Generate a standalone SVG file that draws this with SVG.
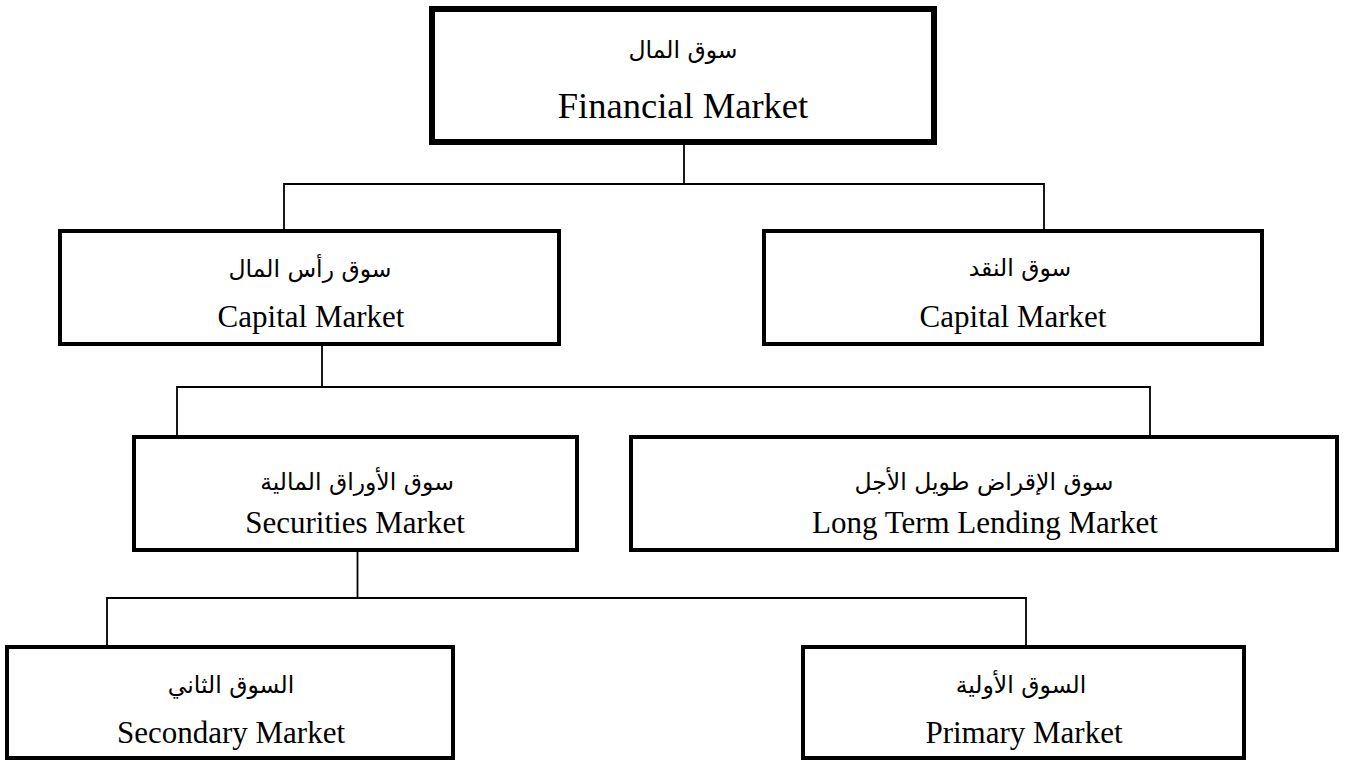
<svg xmlns="http://www.w3.org/2000/svg" width="1353" height="762" viewBox="0 0 1353 762">
<style>
.box{fill:#fff;stroke:#000;stroke-width:4}
.top{stroke-width:6}
.en{font-family:"Liberation Serif","Times New Roman",serif;font-size:31px;fill:#000;text-anchor:middle}
.ar{font-family:"DejaVu Sans","Noto Sans",sans-serif;font-size:23.5px;fill:#000;text-anchor:middle}
.conn{fill:none;stroke:#000;stroke-width:1.8}
</style>
<rect width="1353" height="762" fill="#fff"/>
<g id="connectors">
<path class="conn" d="M684 145V184M284 229V184H1044V229"/>
<path class="conn" d="M322 346V387M177 435V387H1150V435"/>
<path class="conn" d="M357.5 552V598M107 645V598H1026V645"/>
</g>
<g id="financial">
<rect class="box top" x="432" y="9" width="502" height="133"/>
<text class="ar" x="683" y="58" direction="rtl">سوق المال</text>
<text class="en" x="683" y="118" style="font-size:36.5px">Financial Market</text>
</g>
<g id="capital">
<rect class="box" x="60" y="231" width="499" height="113"/>
<text class="ar" x="310" y="277" direction="rtl">سوق رأس المال</text>
<text class="en" x="311" y="327">Capital Market</text>
</g>
<g id="money">
<rect class="box" x="764" y="231" width="498" height="113"/>
<text class="ar" x="1020" y="276" direction="rtl">سوق النقد</text>
<text class="en" x="1013" y="327">Capital Market</text>
</g>
<g id="securities">
<rect class="box" x="134" y="437" width="443" height="113"/>
<text class="ar" x="357" y="490" direction="rtl">سوق الأوراق المالية</text>
<text class="en" x="355" y="533">Securities Market</text>
</g>
<g id="lending">
<rect class="box" x="631" y="437" width="706" height="113"/>
<text class="ar" x="984" y="490" direction="rtl">سوق الإقراض طويل الأجل</text>
<text class="en" x="985" y="533">Long Term Lending Market</text>
</g>
<g id="secondary">
<rect class="box" x="7" y="647" width="446" height="111"/>
<text class="ar" x="231" y="693" direction="rtl">السوق الثاني</text>
<text class="en" x="231" y="743">Secondary Market</text>
</g>
<g id="primary">
<rect class="box" x="803" y="647" width="441" height="111"/>
<text class="ar" x="1021" y="693" direction="rtl">السوق الأولية</text>
<text class="en" x="1024" y="743">Primary Market</text>
</g>
</svg>
